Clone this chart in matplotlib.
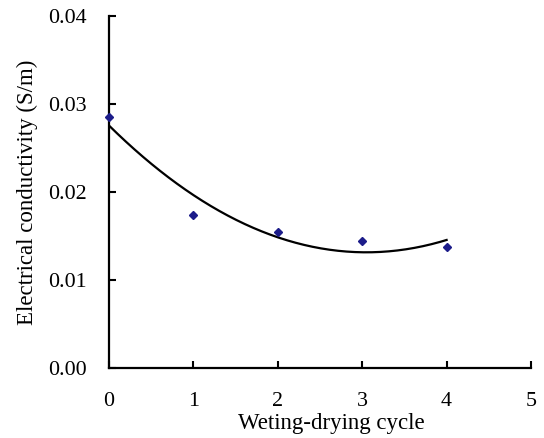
import numpy as np
import matplotlib
matplotlib.use("Agg")
import matplotlib.pyplot as plt

# Measured data points
cycles = [0, 1, 2, 3, 4]
conductivity = [0.0285, 0.0174, 0.0155, 0.0144, 0.0137]

# Trend curve values at each cycle
curve_x = [0, 1, 2, 3, 4]
curve_y = [0.0276, 0.0195, 0.0150, 0.0131, 0.01455]

x_ticks = [0, 1, 2, 3, 4, 5]
y_ticks = [0.00, 0.01, 0.02, 0.03, 0.04]

plt.rcParams['font.family'] = ['Liberation Serif', 'DejaVu Serif']

fig = plt.figure(figsize=(5.44, 4.38), dpi=100)
ax = fig.add_axes([0.2004, 0.1598, 0.7757, 0.8037])

coef = np.polyfit(curve_x, curve_y, 2)
xs = np.linspace(min(curve_x), max(curve_x), 200)
ax.plot(xs, np.polyval(coef, xs), color='black', lw=1.6)
ax.plot(cycles, conductivity, linestyle='none', marker='D', markersize=4,
        color='#1c1c8a', clip_on=False, zorder=5)

ax.set_xlim(0, 5)
ax.set_ylim(0, 0.04)
ax.set_xticks(x_ticks)
ax.set_yticks(y_ticks)
ax.set_xticklabels([str(v) for v in x_ticks])
ax.set_yticklabels([f"{v:.2f}" for v in y_ticks])

for s in ['top', 'right']:
    ax.spines[s].set_visible(False)
for s in ['left', 'bottom']:
    ax.spines[s].set_linewidth(1.6)

ax.tick_params(axis='both', direction='in', length=5, width=1.5, labelsize=15.8)
ax.tick_params(axis='x', pad=17)
ax.tick_params(axis='y', pad=16)

ax.set_xlabel('Weting-drying cycle', fontsize=16.5)
ax.xaxis.set_label_coords(0.526, -0.128)
ax.set_ylabel('Electrical conductivity (S/m)', fontsize=16.5, labelpad=7)

fig.savefig('out.png', dpi=100)
